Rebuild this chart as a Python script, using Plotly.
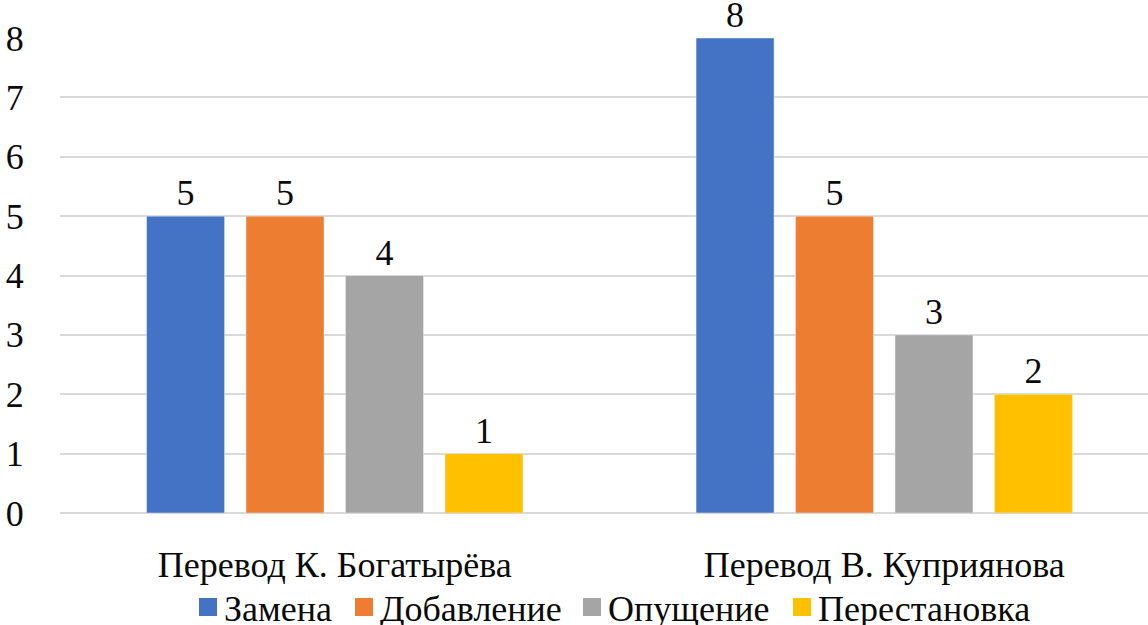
import plotly.graph_objects as go

categories = ["Перевод К. Богатырёва", "Перевод В. Куприянова"]
series_names = ["Замена", "Добавление", "Опущение", "Перестановка"]
series_values = {
    "Замена": [5, 8],
    "Добавление": [5, 5],
    "Опущение": [4, 3],
    "Перестановка": [1, 2],
}
series_colors = {
    "Замена": "#4472C4",
    "Добавление": "#ED7D31",
    "Опущение": "#A5A5A5",
    "Перестановка": "#FFC000",
}
y_ticks = [0, 1, 2, 3, 4, 5, 6, 7, 8]

FONT = "Liberation Serif"
FS = 36
TEXT_COLOR = "#0a0a0a"

# figure geometry (pixels) used to place the legend row under the axis
W, H = 1148, 625
ML, MR, MT, MB = 60, 0, 38, 112
PLOT_W = W - ML - MR
PLOT_H = H - MT - MB
legend_square_px = [199, 355, 583, 793]   # left edge of each legend swatch
legend_row_px = 607                        # vertical centre of the legend row
swatch = 18

fig = go.Figure()
for name in series_names:
    vals = series_values[name]
    fig.add_trace(go.Bar(
        name=name,
        x=categories,
        y=vals,
        marker=dict(color=series_colors[name]),
        text=[str(v) for v in vals],
        textposition="outside",
        textfont=dict(family=FONT, size=FS, color=TEXT_COLOR),
        cliponaxis=False,
        showlegend=False,
    ))


def px_x(px):
    return (px - ML) / PLOT_W


def px_y(py):
    return (H - MB - py) / PLOT_H


# legend row: coloured swatch followed by the series name
for name, left in zip(series_names, legend_square_px):
    fig.add_shape(
        type="rect", xref="paper", yref="paper",
        x0=px_x(left), x1=px_x(left + swatch),
        y0=px_y(legend_row_px - swatch / 2), y1=px_y(legend_row_px + swatch / 2),
        fillcolor=series_colors[name], line=dict(width=0),
    )
    fig.add_annotation(
        xref="paper", yref="paper",
        x=px_x(left + swatch + 5), y=px_y(legend_row_px + 2),
        xanchor="left", yanchor="middle", showarrow=False,
        text=name, font=dict(family=FONT, size=FS, color=TEXT_COLOR),
    )

fig.update_layout(
    width=W,
    height=H,
    margin=dict(l=ML, r=MR, t=MT, b=MB),
    plot_bgcolor="white",
    barmode="group",
    bargap=0.276,
    bargroupgap=0.216,
    font=dict(family=FONT, size=FS, color=TEXT_COLOR),
    showlegend=False,
    xaxis=dict(
        range=[-0.5, 1.48],
        showgrid=False,
        showline=False,
        zeroline=False,
        ticks="outside",
        ticklen=20,
        tickcolor="rgba(0,0,0,0)",
        tickfont=dict(family=FONT, size=FS, color=TEXT_COLOR),
    ),
    yaxis=dict(
        range=[0, 8],
        tickvals=y_ticks,
        showgrid=True,
        gridcolor="#D9D9D9",
        gridwidth=2,
        zeroline=True,
        zerolinecolor="#D9D9D9",
        zerolinewidth=2,
        showline=False,
        ticks="outside",
        ticklen=28,
        tickcolor="rgba(0,0,0,0)",
        tickfont=dict(family=FONT, size=FS, color=TEXT_COLOR),
    ),
)

fig.write_html("out.html")
